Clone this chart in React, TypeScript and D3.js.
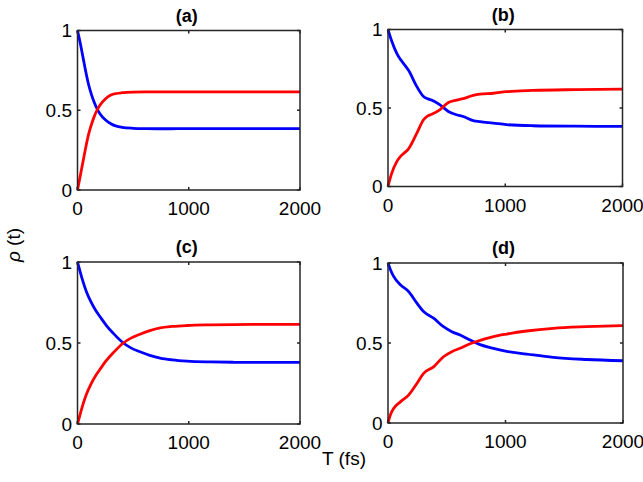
import * as d3 from "d3";

// time samples (fs) and populations
const tA = [0, 25, 50, 75, 100, 125, 150, 175, 200, 250, 300, 350, 400, 500, 600, 800, 1000, 1500, 2000];
const blueA = [1.0, 0.92, 0.83, 0.74, 0.66, 0.6, 0.55, 0.51, 0.48, 0.44, 0.415, 0.4, 0.393, 0.387, 0.385, 0.384, 0.385, 0.385, 0.385];
const redA = [0.0, 0.09, 0.18, 0.27, 0.35, 0.41, 0.46, 0.5, 0.53, 0.57, 0.595, 0.605, 0.61, 0.614, 0.615, 0.615, 0.615, 0.615, 0.615];

const tB = [0, 30, 76, 105, 133, 175, 246, 303, 340, 373, 444, 515, 585, 642, 727, 784, 897, 1010, 1236, 1600, 2000];
const blueB = [1.0, 0.93, 0.846, 0.81, 0.783, 0.74, 0.636, 0.573, 0.558, 0.55, 0.52, 0.478, 0.457, 0.446, 0.42, 0.413, 0.404, 0.394, 0.387, 0.384, 0.383];
const redB = [0.0, 0.08, 0.16, 0.19, 0.21, 0.24, 0.34, 0.425, 0.45, 0.46, 0.49, 0.535, 0.55, 0.56, 0.58, 0.588, 0.594, 0.604, 0.612, 0.617, 0.62];

const tC = [0, 20, 40, 81, 120, 160, 201, 260, 322, 412, 480, 562, 650, 743, 850, 983, 1200, 1404, 1700, 2000];
const blueC = [1.0, 0.95, 0.9, 0.815, 0.755, 0.705, 0.664, 0.608, 0.56, 0.5, 0.47, 0.446, 0.424, 0.407, 0.396, 0.388, 0.383, 0.381, 0.38, 0.38];
const redC = [0.0, 0.05, 0.1, 0.185, 0.245, 0.295, 0.336, 0.392, 0.44, 0.5, 0.53, 0.554, 0.576, 0.593, 0.602, 0.608, 0.612, 0.614, 0.615, 0.615];

const tD = [0, 20, 48, 105, 175, 246, 303, 388, 472, 543, 614, 699, 784, 897, 1010, 1180, 1406, 1689, 2000];
const blueD = [1.0, 0.96, 0.916, 0.864, 0.822, 0.749, 0.697, 0.655, 0.602, 0.571, 0.55, 0.519, 0.49, 0.467, 0.448, 0.431, 0.41, 0.397, 0.389];
const redD = [0.0, 0.05, 0.09, 0.132, 0.174, 0.247, 0.31, 0.351, 0.414, 0.446, 0.467, 0.495, 0.516, 0.54, 0.556, 0.575, 0.592, 0.602, 0.609];

const panelTitles = ["(a)", "(b)", "(c)", "(d)"];
const xTicks = [0, 1000, 2000];
const yTicks = [0, 0.5, 1];
const yTickLabels = ["0", "0.5", "1"];

const SERIES = [
  { t: tA, blue: blueA, red: redA },
  { t: tB, blue: blueB, red: redB },
  { t: tC, blue: blueC, red: redC },
  { t: tD, blue: blueD, red: redD },
];

// plot boxes in page pixels
const BOXES = [
  { x0: 77.5, x1: 300, y0: 30.5, y1: 190 },
  { x0: 388, x1: 622.5, y0: 29.5, y1: 186.5 },
  { x0: 77.5, x1: 300, y0: 262, y1: 424 },
  { x0: 388, x1: 623, y0: 263, y1: 423 },
];

const FONT = "'Liberation Sans', Arial, Helvetica, sans-serif";
const AXIS = "#262626";

function Panel({ idx }: { idx: number }) {
  const b = BOXES[idx];
  const s = SERIES[idx];
  const x = d3.scaleLinear().domain([0, 2000]).range([b.x0, b.x1]);
  const y = d3.scaleLinear().domain([0, 1]).range([b.y1, b.y0]);
  const line = d3
    .line<[number, number]>()
    .x((d) => x(d[0]))
    .y((d) => y(d[1]))
    .curve(d3.curveMonotoneX);
  const bluePts = s.t.map((t, i) => [t, s.blue[i]] as [number, number]);
  const redPts = s.t.map((t, i) => [t, s.red[i]] as [number, number]);
  const tl = 3;

  return (
    <g>
      <path d={line(bluePts) ?? ""} fill="none" stroke="#0000ff" strokeWidth={2.8} />
      <path d={line(redPts) ?? ""} fill="none" stroke="#ff0000" strokeWidth={2.8} />
      <rect x={b.x0} y={b.y0} width={b.x1 - b.x0} height={b.y1 - b.y0} fill="none" stroke={AXIS} strokeWidth={1.5} />
      {xTicks.map((v) => (
        <g key={"x" + v}>
          <line x1={x(v)} x2={x(v)} y1={b.y1} y2={b.y1 - tl} stroke={AXIS} strokeWidth={1.5} />
          <line x1={x(v)} x2={x(v)} y1={b.y0} y2={b.y0 + tl} stroke={AXIS} strokeWidth={1.5} />
          <text x={x(v)} y={b.y1 + 25} textAnchor="middle" fontSize={19} fontFamily={FONT} fill="#000">
            {v}
          </text>
        </g>
      ))}
      {yTicks.map((v, i) => (
        <g key={"y" + v}>
          <line x1={b.x0} x2={b.x0 + tl} y1={y(v)} y2={y(v)} stroke={AXIS} strokeWidth={1.5} />
          <line x1={b.x1} x2={b.x1 - tl} y1={y(v)} y2={y(v)} stroke={AXIS} strokeWidth={1.5} />
          <text x={b.x0 - 5.5} y={y(v)} dy="0.35em" textAnchor="end" fontSize={19} fontFamily={FONT} fill="#000">
            {yTickLabels[i]}
          </text>
        </g>
      ))}
      <text
        x={(b.x0 + b.x1) / 2 - 2}
        y={b.y0 - 9}
        textAnchor="middle"
        fontSize={18}
        fontWeight="bold"
        fontFamily={FONT}
        fill="#000"
      >
        {panelTitles[idx]}
      </text>
    </g>
  );
}

export default function App() {
  return (
    <svg
      width={643}
      height={482}
      style={{ position: "absolute", left: 0, top: 0, background: "#fff" }}
    >
      <rect width={643} height={482} fill="#fff" />
      {BOXES.map((_, i) => (
        <Panel key={i} idx={i} />
      ))}
      <text
        transform="translate(20,245) rotate(-90)"
        textAnchor="middle"
        fontSize={19}
        fontFamily={FONT}
        fill="#000"
      >
        <tspan fontStyle="italic">ρ</tspan> (t)
      </text>
      <text x={322} y={465} fontSize={19} fontFamily={FONT} fill="#000">
        T (fs)
      </text>
    </svg>
  );
}
